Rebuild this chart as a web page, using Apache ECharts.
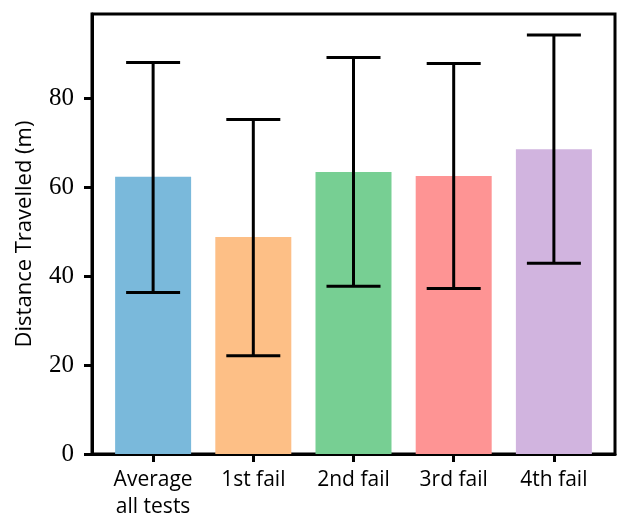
<!DOCTYPE html>
<html>
<head>
<meta charset="utf-8">
<script src="https://cdn.jsdelivr.net/npm/echarts@6/dist/echarts.min.js"></script>
<style>
  html, body { margin: 0; padding: 0; background: #fff; }
  #chart { width: 623px; height: 523px; }
</style>
</head>
<body>
<div id="chart"></div>
<script>
// data
const categories = ['Average\nall tests', '1st fail', '2nd fail', '3rd fail', '4th fail'];
const means = [62.3, 48.8, 63.4, 62.5, 68.5];
const errLow = [36.3, 22.1, 37.7, 37.2, 42.9];
const errHigh = [88.0, 75.2, 89.1, 87.8, 94.2];
const colors = ['#7ab9db', '#fdbf86', '#77cf93', '#fe9494', '#d1b4df'];
const positions = [0, 1, 2, 3, 4];
const yTicks = [0, 20, 40, 60, 80];

const chart = echarts.init(document.getElementById('chart'));

const barData = positions.map((p, i) => ({
  value: [p, means[i]],
  itemStyle: { color: colors[i] }
}));

const errData = positions.map((p, i) => [p, errLow[i], errHigh[i]]);

const option = {
  animation: false,
  grid: {
    left: 92, top: 14, right: 8, bottom: 69,
    show: true,
    borderColor: '#000',
    borderWidth: 3,
    backgroundColor: 'transparent'
  },
  xAxis: {
    type: 'value',
    min: -0.61,
    max: 4.61,
    splitLine: { show: false },
    axisLine: { show: true, onZero: false, lineStyle: { color: '#000', width: 3 } },
    axisTick: {
      show: true, customValues: positions, length: 8,
      lineStyle: { color: '#000', width: 3 }
    },
    axisLabel: {
      customValues: positions,
      margin: 13,
      fontFamily: 'Open Sans',
      fontSize: 21,
      lineHeight: 27,
      color: '#000',
      formatter: v => categories[Math.round(v)]
    }
  },
  yAxis: {
    type: 'value',
    min: 0,
    max: 98.9,
    splitLine: { show: false },
    axisLine: { show: true, onZero: false, lineStyle: { color: '#000', width: 3 } },
    axisTick: {
      show: true, customValues: yTicks, length: 8,
      lineStyle: { color: '#000', width: 3 }
    },
    axisLabel: {
      customValues: yTicks,
      margin: 18,
      fontFamily: 'Liberation Serif',
      fontSize: 25,
      color: '#000'
    },
    name: 'Distance Travelled (m)',
    nameLocation: 'middle',
    nameGap: 56,
    nameTextStyle: { fontFamily: 'Open Sans', fontSize: 22, color: '#000' }
  },
  series: [
    {
      type: 'bar',
      data: barData,
      barWidth: 76
    },
    {
      type: 'custom',
      data: errData,
      z: 10,
      renderItem: function (params, api) {
        const x = api.value(0);
        const lo = api.coord([x, api.value(1)]);
        const hi = api.coord([x, api.value(2)]);
        const half = 27;
        const style = { stroke: '#000', lineWidth: 3 };
        return {
          type: 'group',
          children: [
            { type: 'line', shape: { x1: lo[0], y1: lo[1], x2: hi[0], y2: hi[1] }, style: style },
            { type: 'line', shape: { x1: lo[0] - half, y1: lo[1], x2: lo[0] + half, y2: lo[1] }, style: style },
            { type: 'line', shape: { x1: hi[0] - half, y1: hi[1], x2: hi[0] + half, y2: hi[1] }, style: style }
          ]
        };
      }
    }
  ]
};

chart.setOption(option);
</script>
</body>
</html>
